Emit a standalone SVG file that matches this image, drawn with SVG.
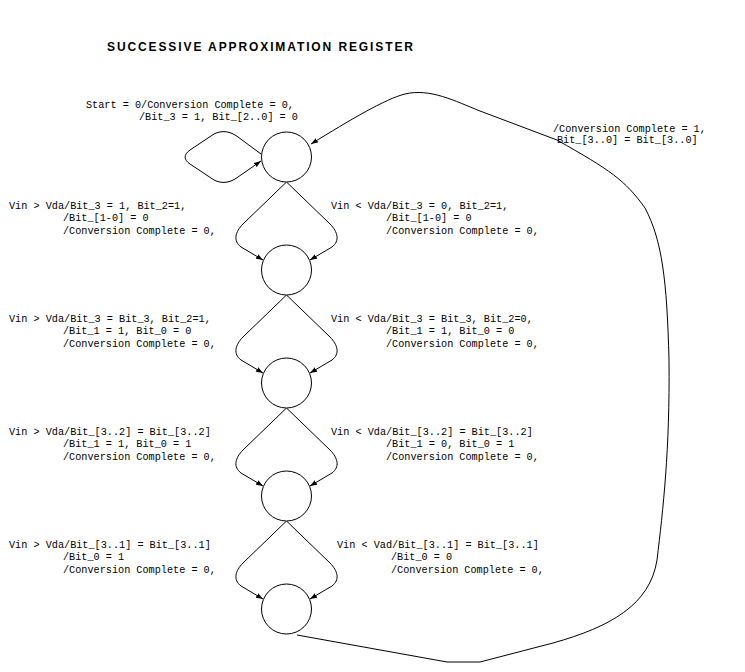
<svg xmlns="http://www.w3.org/2000/svg" width="745" height="672" viewBox="0 0 745 672">
<style>
.st{fill:#fff;stroke:#000;stroke-width:1}
.cn{fill:none;stroke:#000;stroke-width:1;marker-end:url(#ah)}
.lb{font-family:"Liberation Mono","DejaVu Sans Mono",monospace;font-size:10.2px;fill:#000}
.tt{font-family:"Liberation Sans",Arial,sans-serif;font-size:12px;font-weight:bold;fill:#000}
</style>
<defs>
<marker id="ah" markerUnits="userSpaceOnUse" markerWidth="8" markerHeight="6" refX="7" refY="3" orient="auto">
<path d="M0,0.5 L7,3 L0,5.5 z" fill="#000"/>
</marker>
</defs>
<rect width="745" height="672" fill="#fff"/>
<text class="tt" x="107" y="51" textLength="306" lengthAdjust="spacing">SUCCESSIVE APPROXIMATION REGISTER</text>
<g id="connectors">
<path class="cn" d="M261,154 L238,137 C230,131 222,130 214,134 L190,150 C183,155 184,160 190,164 L214,180 C222,184 230,183 238,177 L261,161"/>
<path class="cn" d="M286.5,182 L243,224 C235,232 233,241 241,247 L263,260"/>
<path class="cn" d="M286.5,182 L330,224 C338,232 340,241 332,247 L310,260"/>
<path class="cn" d="M286.5,295 L243,337 C235,345 233,354 241,360 L263,373"/>
<path class="cn" d="M286.5,295 L330,337 C338,345 340,354 332,360 L310,373"/>
<path class="cn" d="M286.5,408 L243,450 C235,458 233,467 241,473 L263,486"/>
<path class="cn" d="M286.5,408 L330,450 C338,458 340,467 332,473 L310,486"/>
<path class="cn" d="M286.5,521 L243,563 C235,571 233,580 241,586 L263,599"/>
<path class="cn" d="M286.5,521 L330,563 C338,571 340,580 332,586 L310,599"/>
<path class="cn" d="M297,635 L447,662 L480,662 L553,643 C610,627 650,605 657,560 C663,510 670,450 669,360 C667,280 662,240 645,208 C625,180 610,170 557,140 L480,111 C455,101 430,88 405,94 C385,99 350,120 311,144"/>
</g>
<g id="s0"><circle class="st" cx="286.5" cy="157" r="25"/></g>
<g id="s1"><circle class="st" cx="286.5" cy="270" r="25"/></g>
<g id="s2"><circle class="st" cx="286.5" cy="383" r="25"/></g>
<g id="s3"><circle class="st" cx="286.5" cy="496" r="25"/></g>
<g id="s4"><circle class="st" cx="286.5" cy="609" r="25"/></g>
<g id="labels" class="lb">
<text x="86" y="107.5">Start = 0/Conversion Complete = 0,</text>
<text x="139" y="119.5">/Bit_3 = 1, Bit_[2..0] = 0</text>
<text x="553" y="132">/Conversion Complete = 1,</text>
<text x="557" y="142.5">Bit_[3..0] = Bit_[3..0]</text>

<text x="9" y="208.5">Vin &gt; Vda/Bit_3 = 1, Bit_2=1,</text>
<text x="63" y="221">/Bit_[1-0] = 0</text>
<text x="63" y="233.5">/Conversion Complete = 0,</text>
<text x="331" y="208.5">Vin &lt; Vda/Bit_3 = 0, Bit_2=1,</text>
<text x="386" y="221">/Bit_[1-0] = 0</text>
<text x="386" y="233.5">/Conversion Complete = 0,</text>

<text x="9" y="321.5">Vin &gt; Vda/Bit_3 = Bit_3, Bit_2=1,</text>
<text x="63" y="334">/Bit_1 = 1, Bit_0 = 0</text>
<text x="63" y="346.5">/Conversion Complete = 0,</text>
<text x="331" y="321.5">Vin &lt; Vda/Bit_3 = Bit_3, Bit_2=0,</text>
<text x="386" y="334">/Bit_1 = 1, Bit_0 = 0</text>
<text x="386" y="346.5">/Conversion Complete = 0,</text>

<text x="9" y="434.5">Vin &gt; Vda/Bit_[3..2] = Bit_[3..2]</text>
<text x="63" y="447">/Bit_1 = 1, Bit_0 = 1</text>
<text x="63" y="459.5">/Conversion Complete = 0,</text>
<text x="331" y="434.5">Vin &lt; Vda/Bit_[3..2] = Bit_[3..2]</text>
<text x="386" y="447">/Bit_1 = 0, Bit_0 = 1</text>
<text x="386" y="459.5">/Conversion Complete = 0,</text>

<text x="9" y="547.5">Vin &gt; Vda/Bit_[3..1] = Bit_[3..1]</text>
<text x="63" y="560">/Bit_0 = 1</text>
<text x="63" y="572.5">/Conversion Complete = 0,</text>
<text x="337" y="547.5">Vin &lt; Vad/Bit_[3..1] = Bit_[3..1]</text>
<text x="391" y="560">/Bit_0 = 0</text>
<text x="391" y="572.5">/Conversion Complete = 0,</text>
</g>
</svg>
